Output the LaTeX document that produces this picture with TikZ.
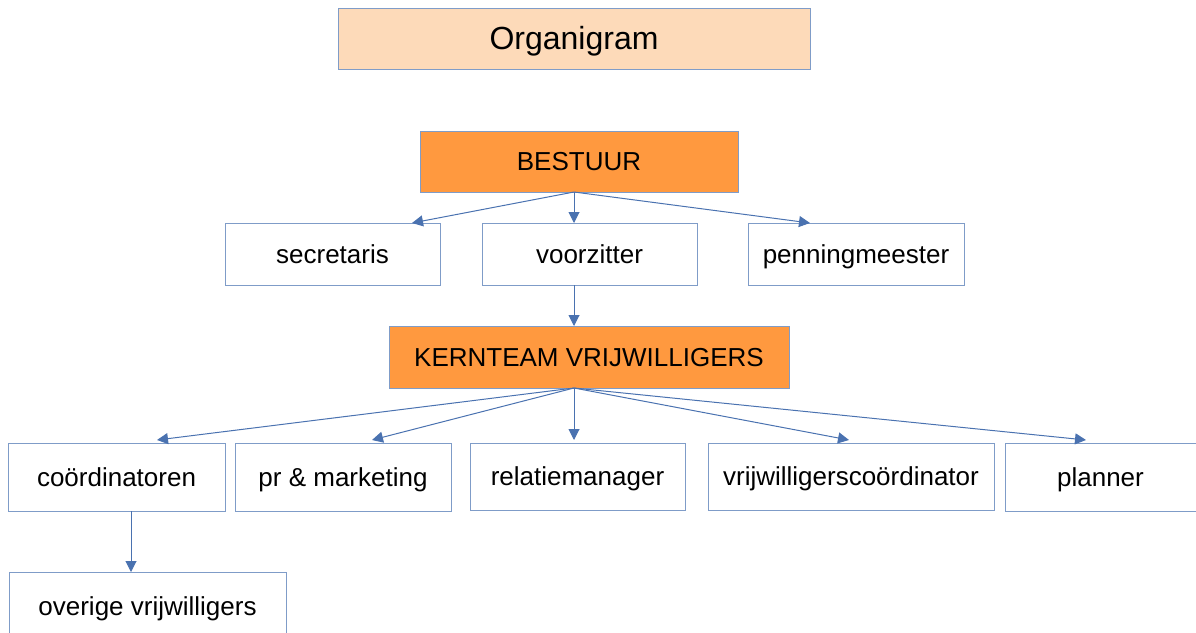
\documentclass[tikz,border=0pt]{standalone}
\usepackage{fontspec}
\setmainfont{Liberation Sans}
\usetikzlibrary{arrows.meta}
\definecolor{peach}{HTML}{FDDAB9}
\definecolor{orng}{HTML}{FF993F}
\definecolor{edge}{HTML}{7F9CC8}
\definecolor{arr}{HTML}{4A72B0}
\begin{document}
\begin{tikzpicture}[x=1pt,y=-1pt,
  box/.style={draw=edge, line width=1pt, fill=white, inner sep=0pt, text height=18pt, text depth=0pt, font=\fontsize{26}{30}\selectfont},
  org/.style={box, fill=orng},
  ttl/.style={box, fill=peach, text height=22pt, font=\fontsize{32}{36}\selectfont},
  conn/.style={draw=arr, line width=1pt, -{Triangle[length=11pt,width=11pt]}}]
\useasboundingbox (0,0) rectangle (1196,632);
\newcommand{\bx}[6]{\node[#1, minimum width=#4-#3, minimum height=#6-#5] (#2) at ({(#3+#4)/2},{(#5+#6)/2})}
\bx{ttl}{title}{338}{810}{8}{69} {Organigram};
\bx{org}{bestuur}{420}{738}{131}{192} {BESTUUR};
\bx{box}{secr}{225}{440}{223}{285} {secretaris};
\bx{box}{voorz}{482}{697}{223}{285} {voorzitter};
\bx{box}{penn}{748}{964}{223}{285} {penningmeester};
\bx{org}{kern}{389}{789}{326}{388} {KERNTEAM VRIJWILLIGERS};
\bx{box}{coord}{8}{225}{443}{511} {coördinatoren};
\bx{box}{pr}{235}{451}{443}{511} {pr \& marketing};
\bx{box}{rel}{470}{685}{443}{510} {relatiemanager};
\bx{box}{vcoord}{708}{994}{443}{510} {vrijwilligerscoördinator};
\bx{box}{plan}{1005}{1196}{443}{511} {planner};
\bx{box}{over}{9}{286}{572}{640} {overige vrijwilligers};
\coordinate (sb) at (574,192);
\coordinate (tsecr) at (412,223);
\coordinate (tvoorz) at (574,223);
\coordinate (tpenn) at (810,223);
\coordinate (svoorz) at (574,285);
\coordinate (tkern) at (574,326);
\coordinate (sk) at (574,388);
\coordinate (tcoord) at (157,440);
\coordinate (tpr) at (372,440);
\coordinate (trel) at (574,440);
\coordinate (tvc) at (849,440);
\coordinate (tplan) at (1086,440);
\coordinate (scoord) at (131,511);
\coordinate (tover) at (131,572);
\draw[conn] (sb) -- (tsecr);
\draw[conn] (sb) -- (tvoorz);
\draw[conn] (sb) -- (tpenn);
\draw[conn] (svoorz) -- (tkern);
\draw[conn] (sk) -- (tcoord);
\draw[conn] (sk) -- (tpr);
\draw[conn] (sk) -- (trel);
\draw[conn] (sk) -- (tvc);
\draw[conn] (sk) -- (tplan);
\draw[conn] (scoord) -- (tover);
\end{tikzpicture}
\end{document}
